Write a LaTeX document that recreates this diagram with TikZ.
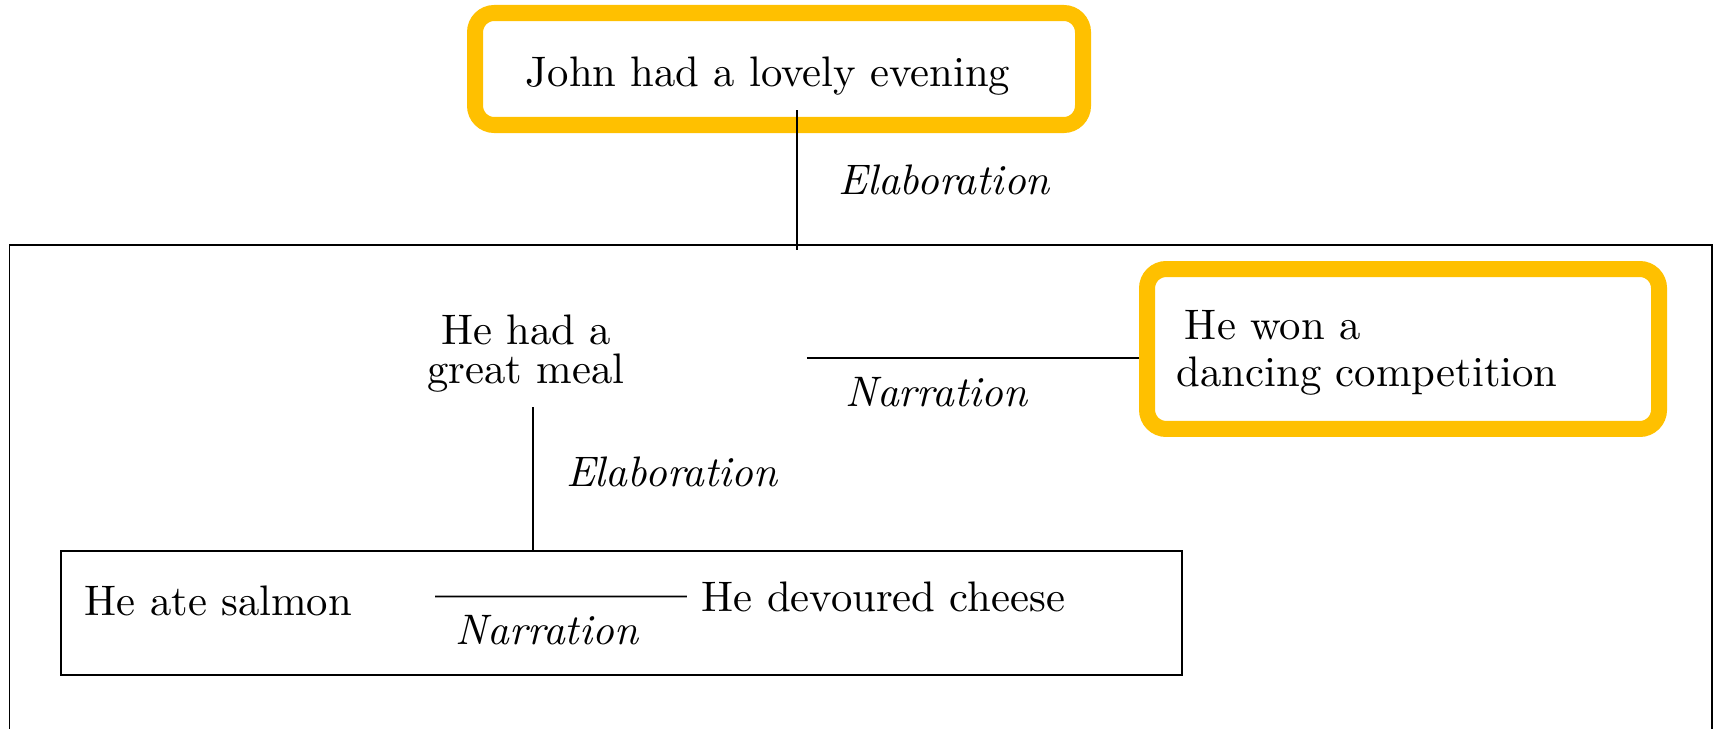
\documentclass[tikz,border=0pt]{standalone}
\usepackage{tikz}
\definecolor{hlgold}{RGB}{255,192,0}

\begin{document}
\begin{tikzpicture}[
  txt/.style={align=center},
  rel/.style={font=\itshape},
  frame/.style={draw, thin, inner sep=0pt},
  hl/.style={draw=hlgold, line width=3.75pt, rounded corners=4.5pt, inner sep=0pt}
]
  \useasboundingbox (0,0) rectangle (14.11,-6.00);

  % yellow highlights
  \node[hl, minimum width=5.005cm, minimum height=0.922cm] (johnhl) at (6.413,-0.568) {};
  \node[hl, minimum width=4.215cm, minimum height=1.317cm] (wonhl) at (11.550,-2.873) {};

  % boxes
  \node[frame, anchor=north west, minimum width=14.015cm, minimum height=4.6cm] (outer) at (0.070,-2.009) {};
  \node[frame, anchor=north west, minimum width=9.228cm, minimum height=1.020cm] (inner) at (0.494,-4.528) {};

  % discourse units
  \node[txt, anchor=base] (john) at (6.322,-0.708) {John had a lovely evening};
  \node[txt, anchor=north] (meal) at (4.33,-2.466) {He had a\\[-2.9pt]great meal};
  \node[txt, align=left, anchor=north west] (won) at (9.564,-2.433) {\hspace*{1.9pt}He won a\\[-1pt]dancing competition};
  \node[txt, anchor=base west] (salmon) at (0.575,-5.063) {He ate salmon};
  \node[txt, anchor=base west] (cheese) at (5.654,-5.030) {He devoured cheese};

  \coordinate (e1top) at (6.561,-0.906);
  \coordinate (e2top) at ([xshift=0.058cm]meal.south);
  \coordinate (n1start) at (6.643,-2.947);
  \coordinate (n2start) at (3.581,-4.910);

  % relations
  \draw (e1top) -- node[rel, right, xshift=6.1pt] (elab1) {Elaboration} ([yshift=-0.05cm]e1top |- outer.north);
  \draw (n1start) -- node[rel, below, pos=0.39, yshift=-1.1pt] (narr1) {Narration} (n1start -| wonhl.west);
  \draw (e2top) -- node[rel, right, xshift=4.2pt, yshift=1.6pt] (elab2) {Elaboration} (e2top |- inner.north);
  \draw (n2start) -- node[rel, below, pos=0.444, yshift=-1pt] (narr2) {Narration} (cheese.west);
\end{tikzpicture}
\end{document}
